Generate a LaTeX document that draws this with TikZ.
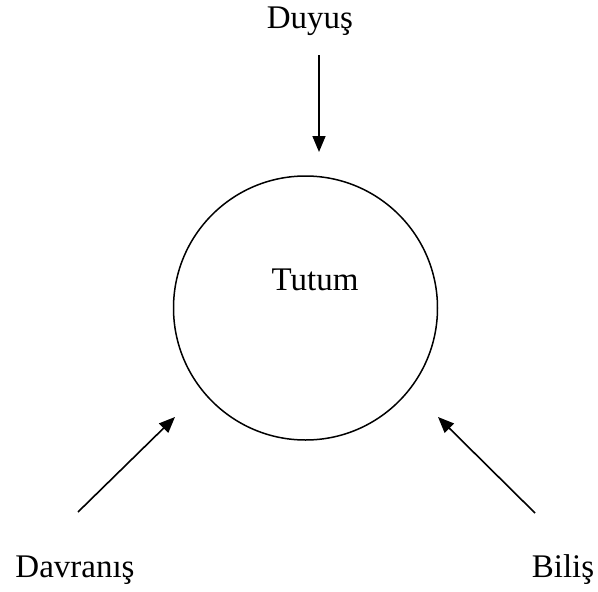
\documentclass[tikz,border=0pt]{standalone}
\usepackage{fontspec}
\setmainfont{Liberation Serif}
\usetikzlibrary{arrows.meta}
\begin{document}
\begin{tikzpicture}[x=1pt,y=-1pt,
  lbl/.style={anchor=base,inner sep=0pt,font=\fontsize{33}{39}\selectfont},
  conn/.style={line width=1.6pt,-{Triangle[length=16pt,width=13pt]}}]
\useasboundingbox (0,0) rectangle (598,592);
\node[draw,circle,line width=1.5pt,minimum size=264pt,inner sep=0pt] (c) at (305.5,308) {};
\node[lbl] (tutum) at (315,290) {Tutum};
\node[lbl] (duyus) at (310,28) {Duyuş};
\node[lbl] (davranis) at (75,577) {Davranış};
\node[lbl] (bilis) at (563,577) {Biliş};
\coordinate (d1) at (319,55);
\coordinate (d2) at (319,152);
\coordinate (v1) at (78,512);
\coordinate (v2) at (175,417);
\coordinate (b1) at (535,513);
\coordinate (b2) at (438,417);
\draw[conn] (d1) -- (d2);
\draw[conn] (v1) -- (v2);
\draw[conn] (b1) -- (b2);
\end{tikzpicture}
\end{document}
